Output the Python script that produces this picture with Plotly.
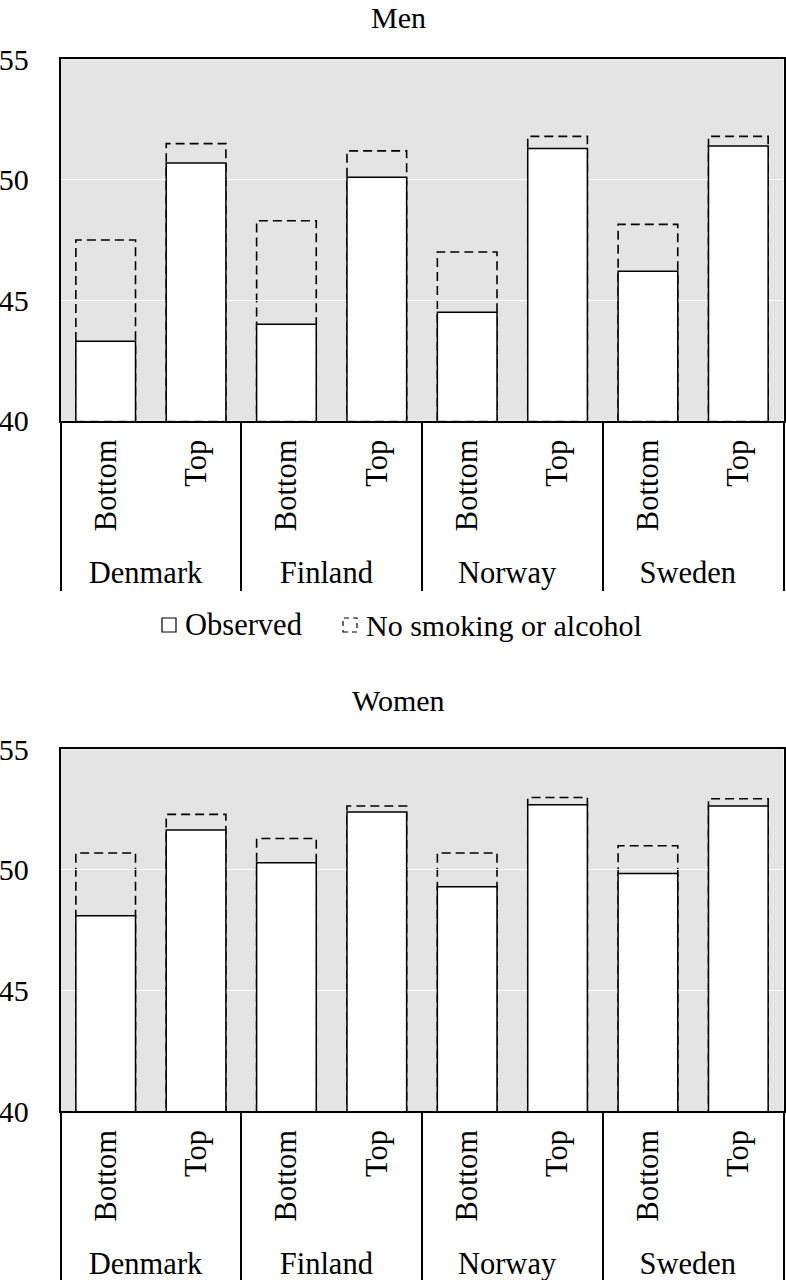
import plotly.graph_objects as go

countries = ["Denmark", "Finland", "Norway", "Sweden"]
levels = ["Bottom", "Top"]

men_observed = [43.3, 50.7, 44.0, 50.1, 44.5, 51.3, 46.2, 51.4]
men_no_smoking = [47.5, 51.5, 48.3, 51.2, 47.0, 51.8, 48.15, 51.8]
women_observed = [48.1, 51.65, 50.3, 52.4, 49.3, 52.7, 49.85, 52.65]
women_no_smoking = [50.7, 52.3, 51.3, 52.65, 50.7, 53.0, 51.0, 52.95]

y_ticks = [40, 45, 50, 55]

FONT = "Liberation Serif"
BAR_W = 0.66

W = 786
H = 1280


def sx(px):
    # pixel x -> paper fraction
    return px / W


def sy(py):
    # pixel y (from top) -> paper fraction
    return 1 - py / H


# multicategory x: outer = country, inner = SES level
x_outer = [c for c in countries for _ in levels]
x_inner = [lv for _ in countries for lv in levels]

fig = go.Figure()

panels = [
    ("x", "y", men_observed, men_no_smoking),
    ("x2", "y2", women_observed, women_no_smoking),
]

shapes = []
for xa, ya, obs, nosmk in panels:
    fig.add_trace(go.Bar(
        x=[x_outer, x_inner], y=obs, xaxis=xa, yaxis=ya,
        marker=dict(color="white", line=dict(color="black", width=1.5)),
        width=BAR_W, showlegend=False, hoverinfo="skip",
    ))
    # dashed outline of the counterfactual bar, drawn under the observed bar
    for i, v in enumerate(nosmk):
        shapes.append(dict(
            type="rect", xref=xa, yref=ya, layer="below",
            x0=i - BAR_W / 2, x1=i + BAR_W / 2, y0=40, y1=v,
            line=dict(color="black", width=1.6, dash="9px,5px"),
            fillcolor="rgba(0,0,0,0)",
        ))

xaxis_common = dict(
    type="multicategory", tickangle=-90, showline=True, mirror=True,
    linecolor="black", linewidth=1.5, showdividers=True,
    dividercolor="black", dividerwidth=1.5, showgrid=False,
    ticks="", ticklabelstandoff=5,
    tickfont=dict(family=FONT, size=30.5, color="black"),
    domain=[sx(60.5), sx(783.5)], automargin=False,
)
yaxis_common = dict(
    range=[40, 55], tickvals=y_ticks, showline=True, mirror=True,
    linecolor="black", linewidth=1.5, gridcolor="white", gridwidth=1,
    zeroline=False, ticks="outside", ticklen=24, tickcolor="rgba(0,0,0,0)",
    tickfont=dict(family=FONT, size=30, color="black"), automargin=False,
)

# legend drawn by hand so the dashed symbol can be shown
leg_y = 625
shapes.append(dict(type="rect", xref="paper", yref="paper",
                   x0=sx(162), x1=sx(176), y0=sy(leg_y + 7), y1=sy(leg_y - 7),
                   line=dict(color="black", width=1.2), fillcolor="white"))
shapes.append(dict(type="rect", xref="paper", yref="paper",
                   x0=sx(343), x1=sx(357), y0=sy(leg_y + 7), y1=sy(leg_y - 7),
                   line=dict(color="black", width=1.2, dash="5px,4px"),
                   fillcolor="rgba(0,0,0,0)"))

txt = dict(xref="paper", yref="paper", showarrow=False, yanchor="middle")
annotations = [
    dict(txt, text="Men", x=sx(398), y=1, yanchor="top", borderpad=0,
         xanchor="center", font=dict(family=FONT, size=30, color="black")),
    dict(txt, text="Women", x=sx(398), y=sy(700), xanchor="center",
         font=dict(family=FONT, size=30, color="black")),
    dict(txt, text="Observed", x=sx(183), y=sy(leg_y), xanchor="left",
         font=dict(family=FONT, size=30.5, color="black")),
    dict(txt, text="No smoking or alcohol", x=sx(364), y=sy(leg_y),
         xanchor="left", font=dict(family=FONT, size=30, color="black")),
]

fig.update_layout(
    width=W, height=H,
    margin=dict(l=0, r=0, t=0, b=0),
    paper_bgcolor="white", plot_bgcolor="#e4e4e4",
    bargap=1 - BAR_W,
    xaxis=dict(xaxis_common, anchor="y"),
    yaxis=dict(yaxis_common, domain=[sy(420.7), sy(59.3)], anchor="x"),
    xaxis2=dict(xaxis_common, anchor="y2"),
    yaxis2=dict(yaxis_common, domain=[sy(1111), sy(749.3)], anchor="x2"),
    shapes=shapes,
    annotations=annotations,
    showlegend=False,
)

# drop the default 8px page margin so the figure fills the window exactly
fig.write_html("out.html", config={"displayModeBar": False},
               post_script="document.body.style.margin = '0';")
